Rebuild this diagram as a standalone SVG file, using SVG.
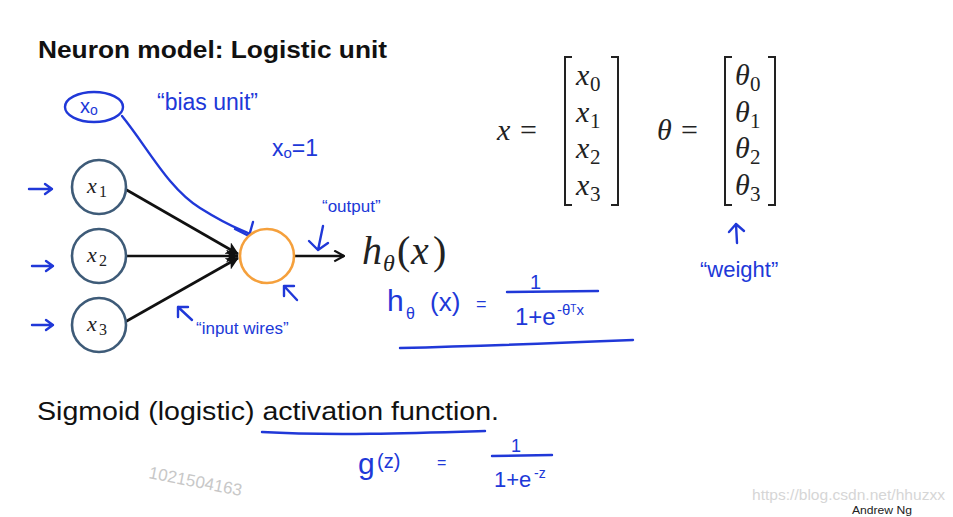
<svg xmlns="http://www.w3.org/2000/svg" width="953" height="517" viewBox="0 0 953 517">
<style>
.hw{font-family:"Liberation Sans","DejaVu Sans",sans-serif;fill:#2038d8}
.hs{fill:none;stroke:#2038d8;stroke-width:2.4;stroke-linecap:round;stroke-linejoin:round}
.m{font-family:"Liberation Serif","DejaVu Serif",serif;fill:#222}
.mi{font-style:italic}
.in{fill:#fff;stroke:#3e5b78;stroke-width:2.6}
.wire{stroke:#111;stroke-width:2.6;fill:none}
.br{fill:none;stroke:#222;stroke-width:2}
</style>
<defs>
<marker id="fa" viewBox="0 0 12 12" refX="11" refY="6" markerWidth="5" markerHeight="5" orient="auto" markerUnits="strokeWidth">
<path d="M0,0 L12,6 L0,12 L3,6 Z" fill="#111"/>
</marker>
<marker id="oa" viewBox="0 0 12 12" refX="11" refY="6" markerWidth="5" markerHeight="5" orient="auto" markerUnits="strokeWidth">
<path d="M2,1 L11,6 L2,11" fill="none" stroke="#111" stroke-width="2"/>
</marker>
</defs>
<rect width="953" height="517" fill="#fff"/>

<text x="38" y="58" font-family="'Liberation Sans',Arial,sans-serif" font-weight="bold" font-size="24" fill="#111" textLength="349" lengthAdjust="spacingAndGlyphs">Neuron model: Logistic unit</text>

<!-- connectors -->
<g id="connectors">
<line class="wire" x1="125" y1="189" x2="238" y2="254" marker-end="url(#fa)"/>
<line class="wire" x1="126" y1="256" x2="238" y2="256" marker-end="url(#fa)"/>
<line class="wire" x1="125" y1="322" x2="238" y2="258" marker-end="url(#fa)"/>
<line class="wire" x1="294" y1="256" x2="344" y2="256" marker-end="url(#oa)"/>
<path class="hs" d="M122,116 C148,148 168,188 200,208 S238,228 250,234"/>
<path class="hs" d="M235,229 L249,236 L253,222"/>
</g>

<!-- nodes -->
<g id="node-x0">
<ellipse cx="94" cy="107" rx="29" ry="15" fill="none" stroke="#2038d8" stroke-width="2.4"/>
<text class="hw" x="80" y="113" font-size="20">x<tspan font-size="14" dy="2">o</tspan></text>
</g>
<g id="node-x1">
<circle class="in" cx="99" cy="187" r="27"/>
<text class="m mi" x="87" y="193" font-size="22">x</text><text class="m" x="99" y="197" font-size="16">1</text>
</g>
<g id="node-x2">
<circle class="in" cx="99" cy="256" r="27"/>
<text class="m mi" x="87" y="262" font-size="22">x</text><text class="m" x="99" y="266" font-size="16">2</text>
</g>
<g id="node-x3">
<circle class="in" cx="99" cy="325" r="27"/>
<text class="m mi" x="87" y="331" font-size="22">x</text><text class="m" x="99" y="335" font-size="16">3</text>
</g>
<g id="node-neuron">
<circle cx="267" cy="256" r="27" fill="#fff" stroke="#f5a03c" stroke-width="2.6"/>
</g>

<!-- output label h_theta(x) -->
<g id="output">
<text class="m mi" x="362" y="264" font-size="40">h</text>
<text class="m mi" x="383" y="271" font-size="24">θ</text>
<text class="m" x="397" y="264" font-size="40">(</text>
<text class="m mi" x="411" y="264" font-size="40">x</text>
<text class="m" x="433" y="264" font-size="40">)</text>
</g>

<!-- handwritten annotations -->
<g id="annotations">
<text class="hw" x="157" y="110" font-size="23">“bias  unit”</text>
<text class="hw" x="272" y="156" font-size="23">x<tspan font-size="15" dy="2">o</tspan><tspan dy="-2">=1</tspan></text>
<text class="hw" x="322" y="212" font-size="17">“output”</text>
<path class="hs" d="M323,226 L318,250 M309,241 L318,250 L328,243"/>
<path class="hs" d="M297,300 L284,286 M284,296 L284,286 L294,286"/>
<path class="hs" d="M192,320 L178,307 M178,317 L178,307 L188,307"/>
<text class="hw" x="196" y="334" font-size="17">“input  wires”</text>
<path class="hs" d="M29,189 L52,189 M45,184 L52,189 L45,194"/>
<path class="hs" d="M32,266 L53,266 M46,261 L53,266 L46,271"/>
<path class="hs" d="M32,325 L53,325 M46,320 L53,325 L46,330"/>
<path class="hs" d="M737,243 L736,224 M729,232 L736,224 L744,231"/>
<text class="hw" x="700" y="277" font-size="22">“weight”</text>
</g>

<!-- vectors -->
<g id="vector-x">
<text class="m mi" x="497" y="140" font-size="30">x</text>
<text class="m" x="520" y="140" font-size="30">=</text>
<path class="br" d="M572,57 L565,57 L565,205 L572,205"/>
<path class="br" d="M611,57 L618,57 L618,205 L611,205"/>
<text class="m mi" x="576" y="85" font-size="30">x</text><text class="m" x="590" y="91" font-size="21">0</text>
<text class="m mi" x="576" y="122" font-size="30">x</text><text class="m" x="590" y="128" font-size="21">1</text>
<text class="m mi" x="576" y="158" font-size="30">x</text><text class="m" x="590" y="164" font-size="21">2</text>
<text class="m mi" x="576" y="195" font-size="30">x</text><text class="m" x="590" y="201" font-size="21">3</text>
</g>
<g id="vector-theta">
<text class="m mi" x="657" y="140" font-size="30">θ</text>
<text class="m" x="681" y="140" font-size="30">=</text>
<path class="br" d="M732,57 L725,57 L725,205 L732,205"/>
<path class="br" d="M768,57 L775,57 L775,205 L768,205"/>
<text class="m mi" x="735" y="85" font-size="30">θ</text><text class="m" x="750" y="91" font-size="21">0</text>
<text class="m mi" x="735" y="122" font-size="30">θ</text><text class="m" x="750" y="128" font-size="21">1</text>
<text class="m mi" x="735" y="158" font-size="30">θ</text><text class="m" x="750" y="164" font-size="21">2</text>
<text class="m mi" x="735" y="195" font-size="30">θ</text><text class="m" x="750" y="201" font-size="21">3</text>
</g>

<!-- hypothesis formula -->
<g id="hypothesis">
<text class="hw" x="387" y="311" font-size="30">h</text>
<text class="hw" x="406" y="319" font-size="16">θ</text>
<text class="hw" x="430" y="311" font-size="26">(x)</text>
<text class="hw" x="476" y="310" font-size="18">=</text>
<text class="hw" x="530" y="289" font-size="20">1</text>
<path class="hs" d="M507,292 L598,291"/>
<text class="hw" x="515" y="325" font-size="24">1+e</text>
<text class="hw" x="557" y="315" font-size="15">-θ<tspan font-size="10" dy="-3">T</tspan><tspan dy="3">x</tspan></text>
<path class="hs" d="M400,348 C480,346 560,343 633,340"/>
</g>

<text x="37" y="420" font-family="'Liberation Sans',Arial,sans-serif" font-size="26" fill="#111" textLength="462" lengthAdjust="spacingAndGlyphs">Sigmoid (logistic) activation function.</text>
<path class="hs" d="M262,432 C330,436 420,433 485,431"/>

<g id="sigmoid">
<text class="hw" x="358" y="474" font-size="30">g</text>
<text class="hw" x="377" y="468" font-size="20">(z)</text>
<text class="hw" x="437" y="468" font-size="16">=</text>
<text class="hw" x="511" y="452" font-size="18">1</text>
<path class="hs" d="M492,456 L552,455"/>
<text class="hw" x="494" y="487" font-size="22">1+e</text>
<text class="hw" x="534" y="478" font-size="14">-z</text>
</g>

<text x="148" y="478" transform="rotate(11 148 478)" font-family="'Liberation Sans',Arial,sans-serif" font-size="17" fill="#c8c8c8">1021504163</text>
<text x="752" y="500" font-family="'Liberation Sans',Arial,sans-serif" font-size="15" fill="#d6d6d6" textLength="193" lengthAdjust="spacingAndGlyphs">https://blog.csdn.net/hhuzxx</text>
<text x="852" y="514" font-family="'Liberation Sans',Arial,sans-serif" font-size="10" fill="#222" textLength="60" lengthAdjust="spacingAndGlyphs">Andrew Ng</text>
</svg>
